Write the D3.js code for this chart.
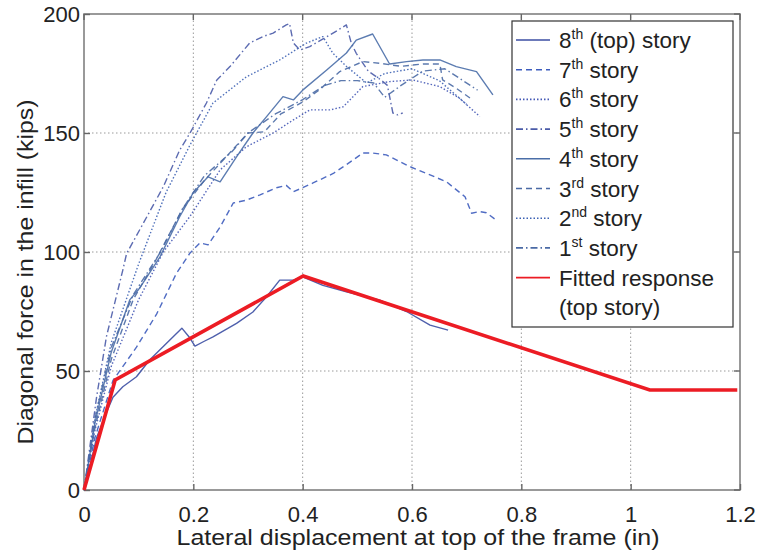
<!DOCTYPE html>
<html><head><meta charset="utf-8">
<script src="https://cdn.jsdelivr.net/npm/d3@7/dist/d3.min.js"></script>
<style>
html,body{margin:0;padding:0;background:#fff;}
svg{display:block;font-family:"Liberation Sans",Arial,sans-serif;}
</style></head>
<body><svg id="c" width="757" height="558"></svg>
<script>
// ---- data (lateral displacement [in], diagonal force [kips]) ----
const xTicks = [0, 0.2, 0.4, 0.6, 0.8, 1, 1.2];
const xTickLabels = ["0", "0.2", "0.4", "0.6", "0.8", "1", "1.2"];
const yTicks = [0, 50, 100, 150, 200];
const yTickLabels = ["0", "50", "100", "150", "200"];

const story8 = [[0,0],[0.01,9],[0.023,22],[0.04,32],[0.053,39],[0.071,43.4],[0.096,47.6],[0.12,54.6],[0.151,61.7],[0.179,68],[0.192,64.4],[0.203,60.5],[0.22,62.5],[0.236,64.3],[0.279,70],[0.309,74.8],[0.334,81.2],[0.358,88.2],[0.383,88.2],[0.4,89.6],[0.437,86],[0.48,83.3],[0.541,79.8],[0.59,75],[0.633,69.3],[0.666,67.2]];
const story7 = [[0,0],[0.02,22],[0.053,46],[0.096,60],[0.133,74],[0.169,91],[0.194,99.6],[0.212,103.8],[0.227,103],[0.249,110.5],[0.273,120.6],[0.297,121.8],[0.322,124],[0.352,127],[0.37,128],[0.383,125.3],[0.419,129],[0.456,133],[0.492,138.6],[0.51,141.6],[0.528,141.6],[0.553,140.8],[0.596,135.9],[0.633,132.4],[0.663,129.5],[0.697,123.2],[0.709,116.3],[0.724,117],[0.736,116.5],[0.754,113.4]];
const story6 = [[0,0],[0.02,25],[0.05,52],[0.1,80],[0.145,100],[0.194,115],[0.249,134.5],[0.297,144.2],[0.346,150],[0.383,155.5],[0.413,159.7],[0.45,159.7],[0.474,161],[0.51,169.5],[0.559,171.6],[0.601,172.3],[0.651,169.5],[0.687,164.6],[0.724,156.9]];
const story5 = [[0,0],[0.005,8.4],[0.023,39],[0.041,64.4],[0.071,92.4],[0.078,99.4],[0.115,114.8],[0.145,127.4],[0.175,142.8],[0.194,150],[0.224,162.6],[0.243,172.3],[0.267,177.9],[0.303,187.8],[0.327,190.5],[0.346,192],[0.37,195.4],[0.376,196],[0.383,187.8],[0.395,184.9],[0.413,186.3],[0.45,191.2],[0.48,195.4],[0.489,187.7],[0.498,183.5],[0.52,176],[0.545,172],[0.555,170],[0.565,158.4],[0.574,157.6],[0.583,158.4]];
const story4 = [[0,0],[0.02,28],[0.05,58],[0.084,80],[0.099,84],[0.108,87],[0.139,98],[0.175,114.8],[0.2,125],[0.227,131.6],[0.249,129.5],[0.279,140],[0.309,150],[0.334,156.9],[0.364,165.3],[0.383,163.9],[0.4,168],[0.444,176.5],[0.48,183.6],[0.498,189],[0.528,191.6],[0.559,179],[0.59,180],[0.62,180.7],[0.651,180.7],[0.681,177.9],[0.718,175.8],[0.748,166]];
const story3 = [[0,0],[0.02,26],[0.05,55],[0.09,80],[0.13,96],[0.18,118],[0.22,130],[0.26,140],[0.3,150],[0.33,150.5],[0.36,158],[0.4,163],[0.43,168],[0.468,175.8],[0.51,180],[0.541,179.3],[0.58,178],[0.62,179],[0.651,179],[0.656,172.3],[0.681,168.8],[0.711,163.9]];
const story2 = [[0,0],[0.02,30],[0.05,62],[0.1,95],[0.15,125],[0.194,145],[0.236,162.6],[0.297,173.6],[0.358,180.7],[0.407,187.8],[0.437,190.5],[0.455,183.6],[0.48,178],[0.517,171],[0.55,175],[0.6,177],[0.65,172],[0.7,162]];
const story1 = [[0,0],[0.02,30],[0.05,60],[0.09,82],[0.14,100],[0.18,118],[0.22,132],[0.27,142],[0.3,150],[0.35,158],[0.4,164],[0.44,170],[0.47,172],[0.5,172],[0.53,171],[0.55,165],[0.58,170],[0.62,176],[0.66,177],[0.72,168]];
const fitted = [[0,0],[0.057,46.2],[0.401,89.9],[1.035,42],[1.195,42]];

const seriesNames = ["8th (top) story","7th story","6th story","5th story","4th story","3rd story","2nd story","1st story"];
const seriesSup = [["8","th"," (top) story"],["7","th"," story"],["6","th"," story"],["5","th"," story"],["4","th"," story"],["3","rd"," story"],["2","nd"," story"],["1","st"," story"]];
const seriesData = [story8, story7, story6, story5, story4, story3, story2, story1];
const seriesColor = ["#3b4ea3","#3d5cbd","#4458b5","#4a5ba8","#4a6ea8","#4a6aa5","#3d62b4","#4a6aa5"];
const seriesDash = [null,"6,4","1.5,2","7,3,1.5,3",null,"6,4","1.5,2","7,3,1.5,3"];

// ---- drawing ----
const svg = d3.select("#c");
const X0 = 84, X1 = 740, Y0 = 490, Y1 = 14;
const x = d3.scaleLinear().domain([0,1.2]).range([X0,X1]);
const y = d3.scaleLinear().domain([0,200]).range([Y0,Y1]);

// grid
const grid = svg.append("g");
grid.selectAll("line.gx").data(xTicks.slice(1,-1)).join("line")
  .attr("x1",d=>x(d)).attr("x2",d=>x(d)).attr("y1",Y0).attr("y2",Y1)
  .attr("stroke","#9a9a9a").attr("stroke-width",1).attr("stroke-dasharray","1.5,2.5");
grid.selectAll("line.gy").data(yTicks.slice(1,-1)).join("line")
  .attr("x1",X0).attr("x2",X1).attr("y1",d=>y(d)).attr("y2",d=>y(d))
  .attr("stroke","#9a9a9a").attr("stroke-width",1).attr("stroke-dasharray","1.5,2.5");

// frame
svg.append("rect").attr("x",X0).attr("y",Y1).attr("width",X1-X0).attr("height",Y0-Y1)
  .attr("fill","none").attr("stroke","#808080").attr("stroke-width",1.6);

// axes
const fs = 22;
const ax = svg.append("g").attr("transform",`translate(0,${Y0})`)
  .call(d3.axisBottom(x).tickValues(xTicks).tickFormat((d,i)=>xTickLabels[i]).tickSize(-6).tickPadding(16));
const ay = svg.append("g").attr("transform",`translate(${X0},0)`)
  .call(d3.axisLeft(y).tickValues(yTicks).tickFormat((d,i)=>yTickLabels[i]).tickSize(-6).tickPadding(4));
[ax,ay].forEach(g=>{
  g.select(".domain").remove();
  g.selectAll(".tick line").attr("stroke","#666").attr("stroke-width",1.4);
  g.selectAll(".tick text").attr("font-size",fs).attr("fill","#222")
    .attr("font-family","'Liberation Sans',Arial,sans-serif");
});
// top/right ticks
svg.append("g").selectAll("line").data(xTicks).join("line")
  .attr("x1",d=>x(d)).attr("x2",d=>x(d)).attr("y1",Y1).attr("y2",Y1+6).attr("stroke","#666").attr("stroke-width",1.4);
svg.append("g").selectAll("line").data(yTicks).join("line")
  .attr("x1",X1).attr("x2",X1-6).attr("y1",d=>y(d)).attr("y2",d=>y(d)).attr("stroke","#666").attr("stroke-width",1.4);

// titles
svg.append("text").attr("x",418).attr("y",545).attr("text-anchor","middle")
  .attr("font-size",22).attr("fill","#222").attr("textLength",483).attr("lengthAdjust","spacingAndGlyphs")
  .text("Lateral displacement at top of the frame (in)");
svg.append("text").attr("transform","translate(33,272) rotate(-90)").attr("text-anchor","middle")
  .attr("font-size",22).attr("fill","#222").attr("textLength",345).attr("lengthAdjust","spacingAndGlyphs")
  .text("Diagonal force in the infill (kips)");

// series
const line = d3.line().x(d=>x(d[0])).y(d=>y(d[1]));
const gS = svg.append("g");
seriesData.forEach((s,i)=>{
  gS.append("path").datum(s).attr("d",line).attr("fill","none")
    .attr("stroke",seriesColor[i]).attr("stroke-width",1.4).attr("stroke-opacity",0.9)
    .attr("stroke-linejoin","round")
    .attr("stroke-dasharray",seriesDash[i]);
});
svg.append("path").datum(fitted).attr("d",line).attr("fill","none")
  .attr("stroke","#ec1c24").attr("stroke-width",3.6).attr("stroke-linejoin","miter");

// legend
const lg = svg.append("g");
lg.append("rect").attr("x",512).attr("y",21).attr("width",221).attr("height",306)
  .attr("fill","#fff").attr("stroke","#333").attr("stroke-width",1.2);
const rowY = i => 40 + i*29.7;
seriesSup.forEach((p,i)=>{
  lg.append("line").attr("x1",516).attr("x2",550).attr("y1",rowY(i)).attr("y2",rowY(i))
    .attr("stroke",seriesColor[i]).attr("stroke-width",1.6).attr("stroke-dasharray",seriesDash[i]);
  const t = lg.append("text").attr("x",559).attr("y",rowY(i)+8).attr("font-size",22.5).attr("fill","#222");
  t.append("tspan").text(p[0]);
  t.append("tspan").attr("font-size",14).attr("dy",-9).text(p[1]);
  t.append("tspan").attr("dy",9).text(p[2]);
});
lg.append("line").attr("x1",516).attr("x2",550).attr("y1",rowY(8)).attr("y2",rowY(8))
  .attr("stroke","#ec1c24").attr("stroke-width",1.8);
lg.append("text").attr("x",559).attr("y",rowY(8)+8).attr("font-size",22.5).attr("fill","#222").text("Fitted response");
lg.append("text").attr("x",559).attr("y",rowY(9)+8).attr("font-size",22.5).attr("fill","#222").text("(top story)");
</script></body></html>
